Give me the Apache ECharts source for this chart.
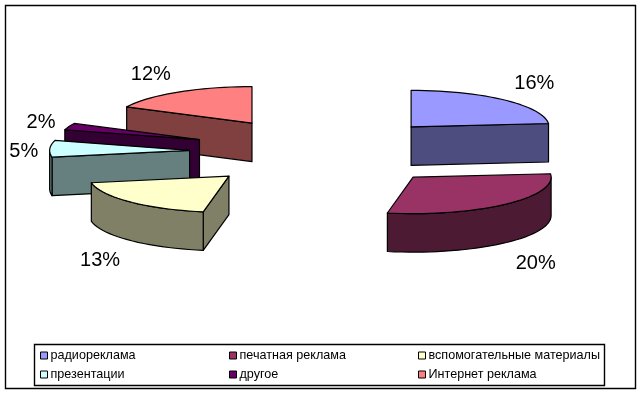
<!DOCTYPE html>
<html><head><meta charset="utf-8">
<style>html,body{margin:0;padding:0;background:#fff}#c{width:643px;height:396px}</style>
<script src="https://cdn.jsdelivr.net/npm/echarts@6/dist/echarts.min.js"></script>
</head><body><div id="c"></div>
<script>
const categories = ['радиореклама','печатная реклама','вспомогательные материалы','презентации','другое','Интернет реклама'];
const values = [16,20,13,5,2,12];
const topColors = ['#9999FF','#993366','#FFFFCC','#CCFFFF','#660066','#FF8080'];
const sideColors = ['#4D4D80','#4D1A33','#808066','#668080','#330033','#804040'];
const paintOrder = [5,4,3,2,0,1];
// layout of the projected pie
const cx=323.5, cy=152, rxRight=138, rxLeft=140, ry=36.5, depth=38.5, explodeX=133, explodeY=34;
const nudgeX=[-2,0,-0.5,-1,0,-1.5];
const labelRadiusX=[313,315,316,300,303,328], labelRadiusY=[95,149,151,40,87,93], labelDrop=1.8;
const font='"Liberation Sans", Arial, sans-serif';
const total=values.reduce((a,b)=>a+b,0);
const rad=d=>d*Math.PI/180;

function slice(i){
  return function(params,api){
    const v=api.value(0);
    let before=0; for(let k=0;k<i;k++) before+=values[k];
    const a0=before/total*360, a1=(before+v)/total*360, mid=(a0+a1)/2;
    const ax=cx+explodeX*Math.sin(rad(mid))+nudgeX[i], ay=cy-explodeY*Math.cos(rad(mid));
    const rim=(a,d)=>{const s=Math.sin(rad(a));return [ax+(s<0?rxLeft:rxRight)*s, ay-ry*Math.cos(rad(a))+d];};
    const arc=(s,e,d)=>{const n=Math.max(2,Math.ceil((e-s)/3)),p=[];
      for(let t=0;t<=n;t++)p.push(rim(s+(e-s)*t/n,d));return p;};
    const style=(fill)=>({fill,stroke:'#000',lineWidth:1.2,lineJoin:'round'});
    const side=sideColors[i], top=topColors[i], kids=[];
    const poly=(points,fill)=>kids.push({type:'polygon',shape:{points},style:style(fill)});
    const wall=a=>{const r=rim(a,0);poly([[ax,ay],r,[r[0],r[1]+depth],[ax,ay+depth]],side);};
    if(Math.sin(rad(a0))<-1e-6) wall(a0);
    if(Math.sin(rad(a1))>1e-6) wall(a1);
    const s=Math.max(a0,90), e=Math.min(a1,270);
    if(e>s) poly(arc(s,e,0).concat(arc(s,e,depth).reverse()),side);
    poly([[ax,ay]].concat(arc(a0,a1,0)),top);
    kids.push({type:'text',style:{
      text:v+'%',
      x:cx+labelRadiusX[i]*Math.sin(rad(mid)),
      y:cy-labelRadiusY[i]*Math.cos(rad(mid))+labelDrop,
      align:'center',verticalAlign:'middle',
      font:'20px '+font,fill:'#000'}});
    return {type:'group',children:kids};
  };
}
const series=categories.map((name,i)=>({
  type:'custom',name,coordinateSystem:'none',
  z:2+paintOrder.indexOf(i),
  data:[[values[i]]],
  itemStyle:{color:topColors[i]},
  renderItem:slice(i),silent:true
}));
const legendAt=(left,names)=>({
  orient:'vertical',left,top:349,padding:0,itemGap:6,itemWidth:7,itemHeight:7,
  icon:'rect',selectedMode:false,data:names,
  itemStyle:{borderColor:'#000',borderWidth:1},
  textStyle:{fontFamily:font,fontSize:12.6,color:'#000',padding:[0,0,0,-2],height:13,lineHeight:13}
});
const chart=echarts.init(document.getElementById('c'),null,{renderer:'canvas'});
chart.setOption({
  animation:false,
  backgroundColor:'#fff',
  graphic:[
    {type:'rect',shape:{x:5.5,y:5.5,width:630,height:383},style:{fill:'none',stroke:'#000',lineWidth:1.4},z:0},
    {type:'rect',shape:{x:34.5,y:344.5,width:570,height:41},style:{fill:'#fff',stroke:'#000',lineWidth:1.4},z:1}
  ],
  legend:[
    legendAt(40,[categories[0],categories[3]]),
    legendAt(229,[categories[1],categories[4]]),
    legendAt(418,[categories[2],categories[5]])
  ],
  series
});
</script></body></html>
